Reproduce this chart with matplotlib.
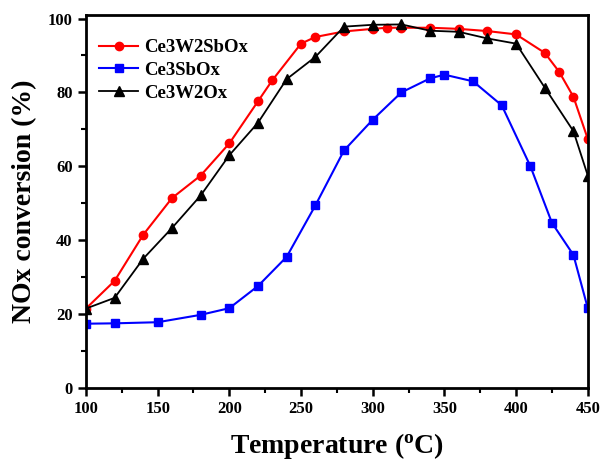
import matplotlib
matplotlib.use("Agg")
import matplotlib.pyplot as plt
from matplotlib.ticker import MultipleLocator

plt.rcParams['font.family'] = ['Liberation Serif', 'DejaVu Serif']
plt.rcParams['font.weight'] = 'bold'
plt.rcParams['mathtext.fontset'] = 'custom'
plt.rcParams['mathtext.rm'] = 'Liberation Serif:bold'

# Ce3W2SbOx
t_red = [100, 120, 140, 160, 180, 200, 220, 230, 250, 260, 280, 300, 310, 320, 340, 360, 380, 400, 420, 430, 440, 450]
v_red = [21.5, 29.0, 41.5, 51.4, 57.5, 66.2, 77.6, 83.3, 93.2, 95.0, 96.5, 97.2, 97.5, 97.5, 97.5, 97.2, 96.6, 95.7, 90.7, 85.6, 78.8, 67.4]

# Ce3SbOx
t_blue = [100, 120, 150, 180, 200, 220, 240, 260, 280, 300, 320, 340, 350, 370, 390, 410, 425, 440, 450]
v_blue = [17.4, 17.5, 17.8, 19.8, 21.6, 27.6, 35.5, 49.4, 64.3, 72.6, 80.0, 83.8, 84.8, 83.0, 76.5, 60.0, 44.7, 36.0, 21.6]

# Ce3W2Ox
t_black = [100, 120, 140, 160, 180, 200, 220, 240, 260, 280, 300, 320, 340, 360, 380, 400, 420, 440, 450]
v_black = [21.5, 24.4, 35.0, 43.3, 52.1, 63.0, 71.8, 83.6, 89.6, 97.8, 98.3, 98.4, 96.7, 96.4, 94.6, 93.2, 81.3, 69.5, 57.5]

labels = ['Ce3W2SbOx', 'Ce3SbOx', 'Ce3W2Ox']

fig = plt.figure(figsize=(6.01, 4.63), dpi=100)
ax = fig.add_axes([0.143, 0.162, 0.835, 0.806])

ax.plot(t_red, v_red, color='#ff0000', marker='o', markersize=6, lw=1.5, label=labels[0])
ax.plot(t_blue, v_blue, color='#0000ff', marker='s', markersize=5.5, lw=1.5, label=labels[1])
ax.plot(t_black, v_black, color='black', marker='^', markersize=7, lw=1.3, label=labels[2])

ax.set_xlim(100, 450)
ax.set_ylim(0, 101)
ax.xaxis.set_major_locator(MultipleLocator(50))
ax.xaxis.set_minor_locator(MultipleLocator(25))
ax.yaxis.set_major_locator(MultipleLocator(20))
ax.yaxis.set_minor_locator(MultipleLocator(10))
ax.tick_params(which='major', direction='out', length=6, width=1.8, labelsize=12)
ax.tick_params(which='minor', direction='out', length=3.5, width=1.5)
for lab in ax.get_xticklabels() + ax.get_yticklabels():
    lab.set_fontweight('bold')
for s in ax.spines.values():
    s.set_linewidth(2)

ax.set_xlabel('Temperature ($\\mathregular{^o}$C)', fontsize=20, fontweight='bold', labelpad=10)
ax.set_ylabel('NOx conversion (%)', fontsize=20, fontweight='bold', labelpad=8)

leg = ax.legend(loc='upper left', frameon=False, fontsize=13.5, handlelength=2.1,
                handletextpad=0.3, borderaxespad=0.0, labelspacing=0.3,
                bbox_to_anchor=(0.011, 0.955))

fig.savefig('out.png', dpi=100)
